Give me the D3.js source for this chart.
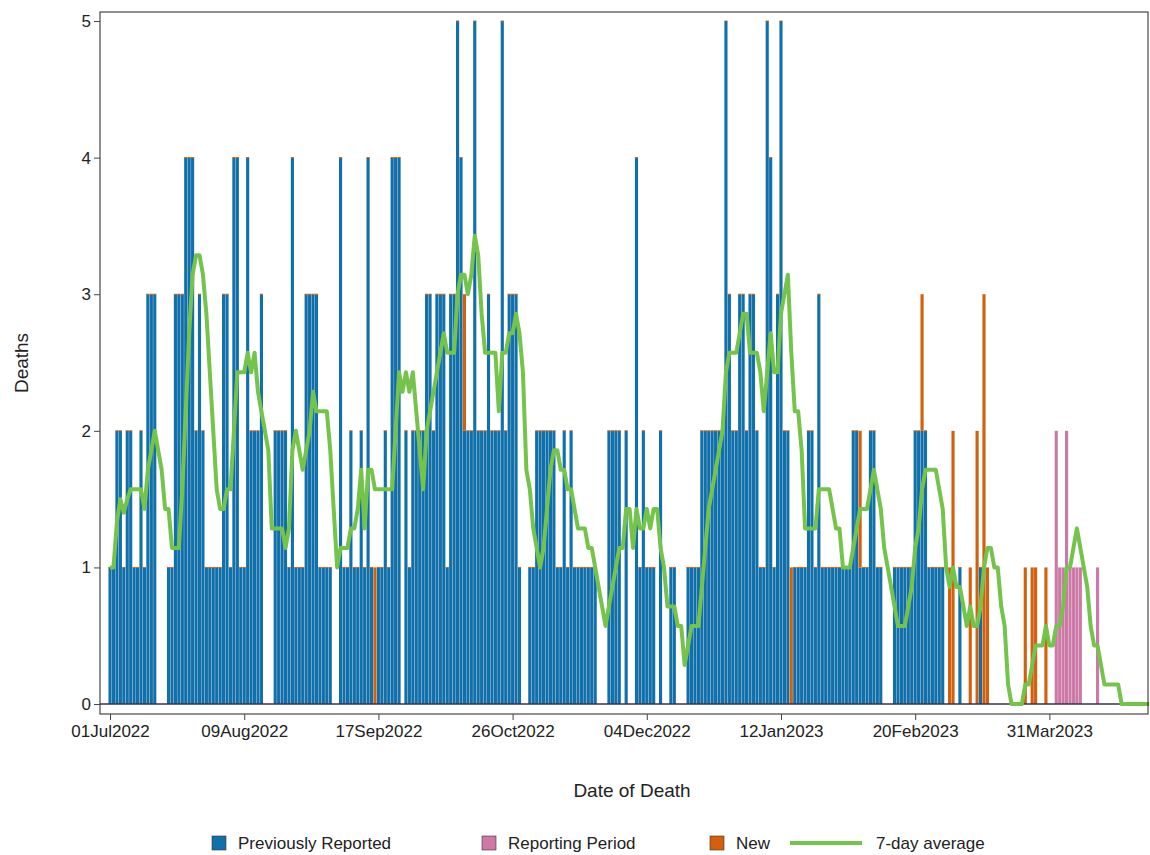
<!DOCTYPE html>
<html>
<head>
<meta charset="utf-8">
<script src="https://cdn.jsdelivr.net/npm/d3@7"></script>
<style>
body { margin: 0; background: #fff; }
text { font-family: "Liberation Sans", Arial, sans-serif; }
</style>
</head>
<body>
<svg id="chart" width="1150" height="855"></svg>
<script>
// daily counts starting 01Jul2022
var start_date = new Date(2022, 6, 1);

var previous = [
    1,1,2,2,1,2,2,1,1,2, 1,3,3,3,0,0,0,1,1,3,
    3,3,4,4,4,2,3,2,1,1, 1,1,1,3,3,1,4,4,1,1,
    4,2,2,2,3,0,0,0,2,2, 2,2,1,4,1,1,1,3,3,3,
    3,1,1,1,1,0,0,4,1,1, 2,1,1,2,1,4,1,0,1,1,
    2,1,4,4,4,0,2,1,2,2, 2,2,3,3,2,3,3,3,1,3,
    3,5,4,2,2,2,5,2,2,2, 3,2,2,2,5,2,3,3,3,1,
    0,0,1,1,2,2,2,2,2,2, 1,1,2,1,2,1,1,1,1,1,
    1,1,0,0,0,2,2,2,2,0, 2,0,0,4,1,2,1,1,1,0,
    2,0,0,1,1,0,0,0,1,1, 1,1,2,2,2,2,2,2,2,5,
    3,2,2,3,3,2,3,3,2,1, 1,5,4,1,3,5,2,2,0,1,
    1,1,1,2,2,1,3,1,1,1, 1,1,1,1,1,1,2,2,1,1,
    1,2,2,1,1,0,0,0,1,1, 1,1,1,1,2,2,2,2,1,1,
    1,1,1,0,0,0,0,1,0,0, 0,0,0,1,0,0,0,0,0,0,
    0,0,0,0,0,0,0,0,0,0, 0,0,0,0,0,0,0,0,0,0,
    0,0,0,0,0,0,0,0,0,0, 0,0,0,0,0,0,0,0,0,0,
    0,0,0
];
var new_cases = [
    [77,1],[103,1],[198,1],[218,1],[236,1],
    [244,1],[245,2],[250,1],[252,2],[254,3],[255,1],
    [266,1],[268,1],[269,1],[272,1]
];
var reporting = [
    [275,2],[276,1],[277,1],[278,2],[279,1],[280,1],[281,1],[282,1],[287,1]
];

var tick_labels = ["01Jul2022","09Aug2022","17Sep2022","26Oct2022","04Dec2022","12Jan2023","20Feb2023","31Mar2023"];
var y_ticks = [0,1,2,3,4,5];

var colors = {prev: "#1170aa", rep: "#cc79a7", new: "#d2600c", avg: "#74c44b"};

var n_days = previous.length;
var days = d3.range(n_days).map(function(i){
    var n = new_cases.find(function(v){return v[0] === i;});
    var r = reporting.find(function(v){return v[0] === i;});
    return {
        day: i,
        date: d3.timeDay.offset(start_date, i),
        prev: previous[i],
        new: n ? n[1] : 0,
        rep: r ? r[1] : 0
    };
});
days.forEach(function(d){ d.total = d.prev + d.new + d.rep; });
// trailing 7-day average of the daily totals
days.forEach(function(d, i){
    d.avg = d3.mean(days.slice(Math.max(0, i-6), i+1), function(v){return v.total;});
});

var svg = d3.select("#chart");
var p_left = 100, p_right = 1148, p_top = 12, p_bottom = 714;

var x = d3.scaleTime()
    .domain([d3.timeHour.offset(start_date, -2.9*24), d3.timeHour.offset(start_date, 301.7*24)])
    .range([p_left, p_right]);
var y = d3.scaleLinear().domain([-0.073, 5.066]).range([p_bottom, p_top]);
var w = x(d3.timeDay.offset(start_date, 1)) - x(start_date);

var bars = svg.append("g");
function stack(key, base_fn, color){
    bars.selectAll("rect." + key)
        .data(days.filter(function(d){return d[key] > 0;}))
        .enter().append("rect")
        .attr("x", function(d){return x(d.date) - w/2 + 0.15;})
        .attr("width", w - 0.3)
        .attr("y", function(d){return y(base_fn(d) + d[key]);})
        .attr("height", function(d){return y(base_fn(d)) - y(base_fn(d) + d[key]);})
        .attr("fill", color);
}
stack("prev", function(){return 0;}, colors.prev);
stack("new", function(d){return d.prev;}, colors.new);
stack("rep", function(d){return d.prev + d.new;}, colors.rep);

// thin caps on top of each blue bar
bars.selectAll("line.cap")
    .data(days.filter(function(d){return d.total > 0 && d.new === 0 && d.rep === 0;}))
    .enter().append("line")
    .attr("x1", function(d){return x(d.date) - w/2 + 0.15;})
    .attr("x2", function(d){return x(d.date) + w/2 - 0.15;})
    .attr("y1", function(d){return y(d.total);})
    .attr("y2", function(d){return y(d.total);})
    .attr("stroke", colors.new).attr("stroke-width", 1);

svg.append("line")
    .attr("x1", p_left).attr("x2", p_right)
    .attr("y1", y(0)).attr("y2", y(0))
    .attr("stroke", "#3a3050").attr("stroke-width", 1.5);

svg.append("path")
    .datum(days)
    .attr("fill", "none")
    .attr("stroke", colors.avg)
    .attr("stroke-width", 4)
    .attr("stroke-linejoin", "round")
    .attr("d", d3.line().x(function(d){return x(d.date);}).y(function(d){return y(d.avg);}));

// frame
svg.append("rect")
    .attr("x", p_left).attr("y", p_top)
    .attr("width", p_right-p_left).attr("height", p_bottom-p_top)
    .attr("fill", "none").attr("stroke", "#222").attr("stroke-width", 1);

var tick_dates = tick_labels.map(function(_, i){return d3.timeDay.offset(start_date, i*39);});
var xa = svg.append("g")
    .attr("transform", "translate(0," + p_bottom + ")")
    .call(d3.axisBottom(x).tickValues(tick_dates)
        .tickFormat(function(_, i){return tick_labels[i];}).tickSize(6).tickSizeOuter(0));
xa.select(".domain").remove();
xa.selectAll("text").attr("font-size", 17).attr("fill", "#222").attr("dy", "0.85em");
xa.selectAll("line").attr("stroke", "#444");

var ya = svg.append("g")
    .attr("transform", "translate(" + p_left + ",0)")
    .call(d3.axisLeft(y).tickValues(y_ticks).tickFormat(d3.format("d")).tickSize(6).tickSizeOuter(0));
ya.select(".domain").remove();
ya.selectAll("text").attr("font-size", 17).attr("fill", "#222");
ya.selectAll("line").attr("stroke", "#444");

svg.append("text")
    .attr("transform", "translate(28," + ((p_top+p_bottom)/2) + ") rotate(-90)")
    .attr("text-anchor", "middle").attr("font-size", 19).attr("fill", "#222")
    .text("Deaths");
svg.append("text")
    .attr("x", (p_left+p_right)/2 + 8).attr("y", 797)
    .attr("text-anchor", "middle").attr("font-size", 19).attr("fill", "#222")
    .text("Date of Death");

var legend_items = [
    {label: "Previously Reported", color: colors.prev, x: 212, type: "box"},
    {label: "Reporting Period", color: colors.rep, x: 482, type: "box"},
    {label: "New", color: colors.new, x: 710, type: "box"},
    {label: "7-day average", color: colors.avg, x: 790, type: "line"}
];
var lg = svg.append("g").selectAll("g").data(legend_items).enter().append("g")
    .attr("transform", function(d){return "translate(" + d.x + ",843)";});
lg.filter(function(d){return d.type === "box";}).append("rect")
    .attr("x", 0).attr("y", -7).attr("width", 14).attr("height", 14)
    .attr("fill", function(d){return d.color;}).attr("stroke", "#333").attr("stroke-width", 0.6);
lg.filter(function(d){return d.type === "line";}).append("line")
    .attr("x1", 0).attr("x2", 72).attr("y1", 0).attr("y2", 0)
    .attr("stroke", function(d){return d.color;}).attr("stroke-width", 4);
lg.append("text")
    .attr("x", function(d){return d.type === "box" ? 26 : 86;})
    .attr("y", 6).attr("font-size", 17).attr("fill", "#222")
    .text(function(d){return d.label;});
</script>
</body>
</html>
